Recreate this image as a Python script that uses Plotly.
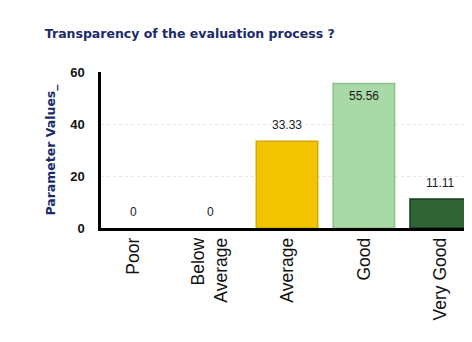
import plotly.graph_objects as go

categories = ["Poor", "Below<br>Average", "Average", "Good", "Very Good"]
values = [0, 0, 33.33, 55.56, 11.11]
labels = ["0", "0", "33.33", "55.56", "11.11"]
colors = ["#F2C400", "#F2C400", "#F2C400", "#A9D9A6", "#2F6534"]
line_colors = ["#d9a800", "#d9a800", "#d9a800", "#8cc08a", "#1a3a1e"]
label_inside = [False, False, False, True, False]
y_ticks = [0, 20, 40, 60]

xs = list(range(len(categories)))

fig = go.Figure(go.Bar(
    x=xs,
    y=values,
    width=0.8,
    marker=dict(color=colors,
                line=dict(color=line_colors,
                          width=[0 if v == 0 else 1.5 for v in values])),
    hoverinfo="skip",
))

for x, v, t, inside in zip(xs, values, labels, label_inside):
    fig.add_annotation(
        x=x, y=v, text=t, showarrow=False,
        yanchor="middle", yshift=(-12 if inside else 16),
        font=dict(family="Liberation Sans", size=12, color="#1a1a1a"),
    )

fig.update_layout(
    width=472, height=342,
    margin=dict(l=93, r=7, t=64, b=122),
    paper_bgcolor="white", plot_bgcolor="white",
    showlegend=False,
    title=dict(text="<b>Transparency of the evaluation process ?</b>",
               x=0.078, xanchor="left", y=0.925, yanchor="middle",
               font=dict(family="DejaVu Sans", size=12.5, color="#1b2a6b")),
    xaxis=dict(
        tickvals=xs, ticktext=categories,
        tickangle=-90, range=[-0.42, 4.42],
        showline=True, linecolor="black", linewidth=2.5,
        ticks="", showgrid=False,
        tickfont=dict(family="Liberation Sans", size=17.5, color="#111111"),
    ),
    yaxis=dict(
        range=[0, 60], tickvals=y_ticks,
        showline=True, linecolor="black", linewidth=2.5,
        ticks="", showgrid=True, gridcolor="#eee4e4", griddash="dot",
        zeroline=False, ticklabelstandoff=11,
        tickfont=dict(family="Liberation Sans", size=13, color="#111111",
                      weight="bold"),
        title=dict(text="<b>Parameter Values_</b>", standoff=12,
                   font=dict(family="DejaVu Sans", size=12.5, color="#1b2a6b")),
    ),
)

fig.write_html("out.html")
